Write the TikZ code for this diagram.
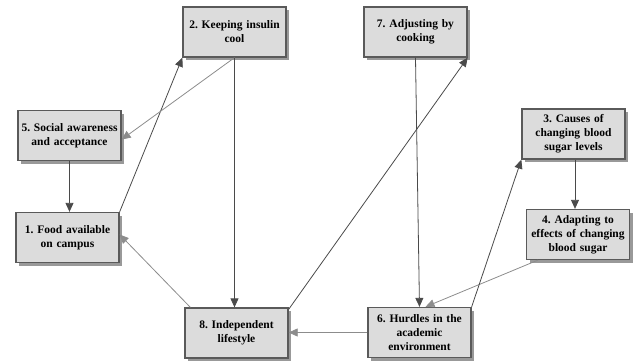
\documentclass[tikz,border=0pt]{standalone}
\usepackage{fontspec}
\setmainfont{Liberation Serif}
\usetikzlibrary{arrows.meta,shadows}
\definecolor{boxfill}{HTML}{DCDCDC}
\definecolor{boxline}{HTML}{5A5A5A}
\definecolor{darkarr}{HTML}{4A4A4A}
\definecolor{lightarr}{HTML}{8C8C8C}
\tikzset{
  factor/.style={draw=boxline,line width=1.3pt,fill=boxfill,
    minimum width=103pt,minimum height=50pt,text width=101pt,align=center,
    inner sep=1pt,font=\frenchspacing\bfseries\fontsize{11.5}{14}\selectfont,
    drop shadow={shadow xshift=3pt,shadow yshift=-3pt,fill=gray!80,opacity=1}},
  darklink/.style={draw=darkarr,line width=0.8pt,-{Triangle[length=9pt,width=8pt]}},
  lightlink/.style={draw=lightarr,line width=0.8pt,-{Triangle[length=9pt,width=8pt]}}
}
\newcommand{\factor}[4]{\node[factor] (#1) at ( #2 , #3 ) {#4};}
\begin{document}
\begin{tikzpicture}[x=1pt,y=-1pt]
        \useasboundingbox (0,0) rectangle (638,360);
        % top row
        \factor{n2}{234.5}{32}{2. Keeping insulin\\cool}
        \factor{n7}{415.5}{32}{7. Adjusting by\\cooking}
        % middle
        \factor{n5}{69.5}{135.5}{5. Social awareness\\and acceptance}
        \factor{n3}{573.5}{134}{3. Causes of\\changing blood\\sugar levels}
        \factor{n1}{67.5}{237.5}{1. Food available\\on campus}
        \factor{n4}{578}{234.5}{4. Adapting to\\effects of changing\\blood sugar}
        % bottom row
        \factor{n8}{236.5}{333}{8. Independent\\lifestyle}
        \factor{n6}{419.5}{332.5}{6. Hurdles in the\\academic\\environment}

        % links
        \draw[darklink] (n1.north east) -- (n2.south west);
        \draw[lightlink] (n2.south) -- ([yshift=-4pt]n5.east);
        \draw[darklink] (n2.south) -- (n2.south |- n8.north);
        \draw[darklink] (n5.south) -- (n5.south |- n1.north);
        \draw[lightlink] ([xshift=6pt]n8.north west) -- ([yshift=3pt]n1.east);
        \draw[darklink] ([yshift=-2pt]n8.north east) -- (n7.south east);
        \draw[darklink] (n7.south) -- (n6.north);
        \draw[darklink] ([xshift=1.5pt]n3.south) -- ([xshift=1.5pt]n3.south |- n4.north);
        \draw[lightlink] ([xshift=12pt]n4.south west) -- ([xshift=6pt]n6.north);
        \draw[darklink] (n6.north east) -- (n3.south west);
        \draw[lightlink] (n6.west) -- (n6.west -| n8.east);
    \end{tikzpicture}
\end{document}
